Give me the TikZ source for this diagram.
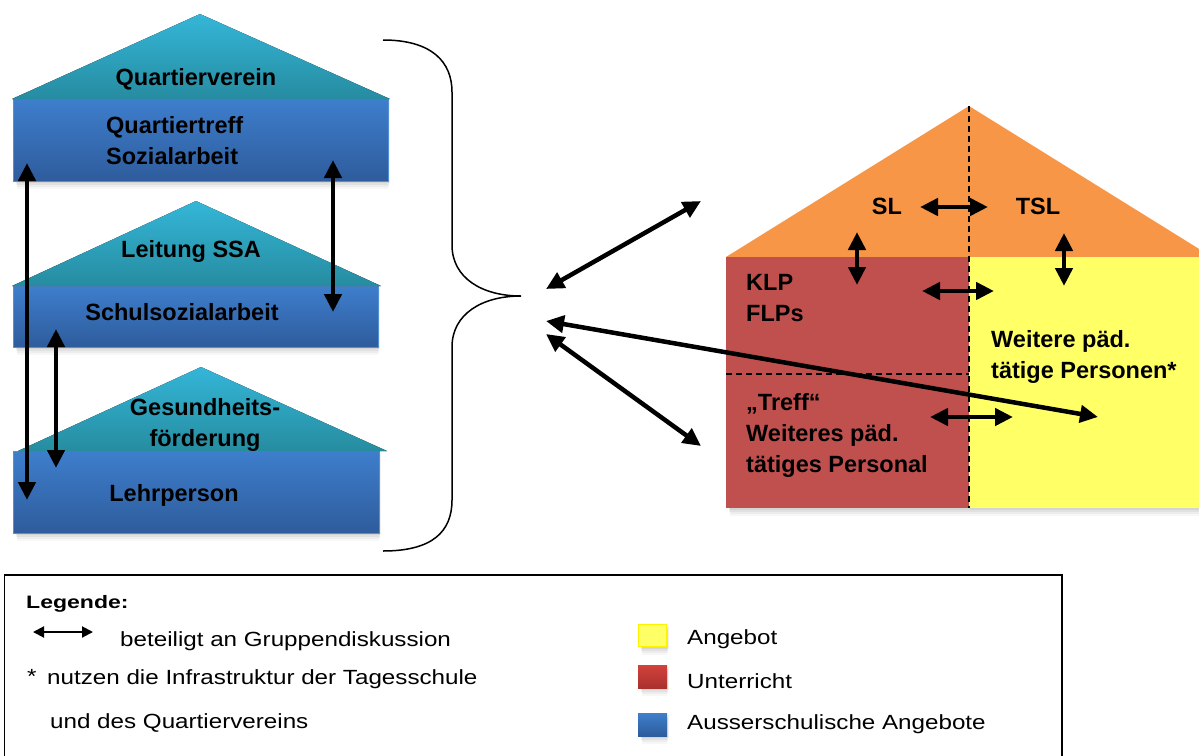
\documentclass[tikz,border=0pt]{standalone}
\usepackage{fontspec}
\setmainfont{Liberation Sans}
\newfontfamily\legfont[FakeStretch=1.18]{Liberation Sans}
\newfontfamily\legtitlefont[FakeStretch=1.28]{Liberation Sans}
\usetikzlibrary{arrows.meta}

\definecolor{blueTop}{RGB}{62,126,204}
\definecolor{blueBot}{RGB}{46,92,156}
\definecolor{blueEdge}{RGB}{84,144,214}
\definecolor{roofTop}{RGB}{52,182,216}
\definecolor{roofBot}{RGB}{38,140,160}
\definecolor{roofOrange}{RGB}{247,150,70}
\definecolor{lessonRed}{RGB}{192,80,77}
\definecolor{offerYellow}{RGB}{255,255,102}
\definecolor{swRedTop}{RGB}{210,66,60}
\definecolor{swRedBot}{RGB}{170,48,46}

% soft shadow below a box: x1 y1 x2 y2
\newcommand\softshade[4]{%
  \foreach \d/\o in {8/0.03,6/0.04,4/0.05,2/0.06}{%
    \fill[black,opacity=\o] ({#1+2+\d/4},{#2+\d}) rectangle ({#3+2-\d/4},{#4+\d});}}

\tikzset{
  lbl/.style={font=\fontsize{23.5}{31}\selectfont\bfseries, inner sep=0pt, text=black},
  leg/.style={font=\legfont\fontsize{20.5}{24}\selectfont, inner sep=0pt, anchor=base west},
  legtitle/.style={font=\legtitlefont\fontsize{18}{22}\selectfont\bfseries, inner sep=0pt, anchor=base west},
  link/.style={line width=4.5pt, {Triangle[length=18pt,width=17pt]}-{Triangle[length=18pt,width=17pt]}},
  leglink/.style={line width=2pt, {Triangle[length=11pt,width=11pt]}-{Triangle[length=11pt,width=11pt]}},
  wall/.style={top color=blueTop, bottom color=blueBot, draw=blueEdge, line width=1pt},
  roof/.style={top color=roofTop, bottom color=roofBot},
  divider/.style={line width=1.3pt, dash pattern=on 6pt off 4pt},
}

\begin{document}
\begin{tikzpicture}[x=1pt,y=-1pt]
\useasboundingbox (0,0) rectangle (1199,755);

% ---------- left: three blue houses ----------
\softshade{13}{99}{388}{181}
\fill[wall] (13,99) rectangle (388,181);
\fill[roof] (12,99) -- (200,14) -- (390,99) -- cycle;
\node[lbl] (qv) at (196,79) {Quartierverein};
\node[lbl,align=left,anchor=west] (qt) at (106,141) {Quartiertreff\\Sozialarbeit};

\softshade{13}{286}{378}{347}
\fill[wall] (13,286) rectangle (378,347);
\fill[roof] (12,286) -- (196,201) -- (381,286) -- cycle;
\node[lbl] (lssa) at (191,251) {Leitung SSA};
\node[lbl] (ssa) at (182,312) {Schulsozialarbeit};

\softshade{13}{451}{379}{533}
\fill[wall] (13,451) rectangle (379,533);
\fill[roof] (18,451) -- (201,367) -- (387,451) -- cycle;
\node[lbl,align=center] (gf) at (205,425) {Gesundheits-\\förderung};
\node[lbl] (lp) at (174,495) {Lehrperson};

% vertical links between the houses
\coordinate (a1t) at (27,163);  \coordinate (a1b) at (27,500);
\coordinate (a2t) at (333,160); \coordinate (a2b) at (333,312);
\coordinate (a3t) at (56,329);  \coordinate (a3b) at (56,468);
\draw[link] (a1t) -- (a1b);
\draw[link] (a2t) -- (a2b);
\draw[link] (a3t) -- (a3b);

% ---------- curly brace ----------
\coordinate (bt) at (521,296);
\draw[line width=1.5pt] (383,40) .. controls (432,40) and (452,62) .. (452,92)
  -- (452,245) .. controls (452,278) and (482,296) .. (bt)
  .. controls (482,296) and (452,314) .. (452,347)
  -- (452,500) .. controls (452,532) and (432,551) .. (383,551);

% ---------- right: school house ----------
\softshade{726}{257}{1212}{508}
\fill[roofOrange] (726,257) -- (969,106) -- (1212,257) -- cycle;
\fill[lessonRed] (726,257) rectangle (969,508);
\fill[offerYellow] (969,257) rectangle (1212,508);
\draw[divider] (969,106) -- (969,508);
\draw[divider] (726,374) -- (969,374);

\node[lbl] (sl) at (887,206) {SL};
\node[lbl] (tsl) at (1038,206) {TSL};
\node[lbl,align=left,anchor=west] (klp) at (746,298) {KLP\\FLPs};
\node[lbl,align=left,anchor=west] (wp) at (991,357) {Weitere päd.\\tätige Personen*};
\node[lbl,align=left,anchor=west] (tr) at (746,435) {„Treff“\\Weiteres päd.\\tätiges Personal};

% links inside the school house
\coordinate (h1a) at (920,207);  \coordinate (h1b) at (988,207);
\coordinate (h2a) at (857,232);  \coordinate (h2b) at (857,285);
\coordinate (h3a) at (1064,233); \coordinate (h3b) at (1064,286);
\coordinate (h4a) at (922,291);  \coordinate (h4b) at (994,291);
\coordinate (h5a) at (930,417);  \coordinate (h5b) at (1013,417);
\draw[link] (h1a) -- (h1b);
\draw[link] (h2a) -- (h2b);
\draw[link] (h3a) -- (h3b);
\draw[link] (h4a) -- (h4b);
\draw[link] (h5a) -- (h5b);

% links from the brace to the school house
\coordinate (m1a) at (546,289); \coordinate (m1b) at (701,201);
\coordinate (m2a) at (546,321); \coordinate (m2b) at (1098,417);
\coordinate (m3a) at (546,334); \coordinate (m3b) at (701,446);
\draw[link] (m1a) -- (m1b);
\draw[link] (m2a) -- (m2b);
\draw[link] (m3a) -- (m3b);

% ---------- legend ----------
\draw[line width=1.5pt] (4.5,575) rectangle (1062,790);
\node[legtitle] (lgt) at (26,608) {Legende:};
\coordinate (la) at (33,632); \coordinate (lb) at (93,632);
\draw[leglink] (la) -- (lb);
\node[leg] (lg1) at (120,646) {beteiligt an Gruppendiskussion};
\node[leg] (lgs) at (27,683) {*};
\node[leg] (lg2) at (47,684) {nutzen die Infrastruktur der Tagesschule};
\node[leg] (lg3) at (50,728) {und des Quartiervereins};

\softshade{638}{624}{667}{647}
\fill[offerYellow, draw=yellow, line width=1.5pt] (638.5,624.5) rectangle (666.5,646.5);
\softshade{638}{665}{667}{688}
\fill[top color=swRedTop, bottom color=swRedBot] (638,665) rectangle (667,688);
\softshade{638}{713}{667}{736}
\fill[top color=blueTop, bottom color=blueBot] (638,713) rectangle (667,736);
\node[leg] (lgy) at (687,644) {Angebot};
\node[leg] (lgr) at (687,688) {Unterricht};
\node[leg] (lgb) at (687,729) {Ausserschulische Angebote};
\end{tikzpicture}
\end{document}
